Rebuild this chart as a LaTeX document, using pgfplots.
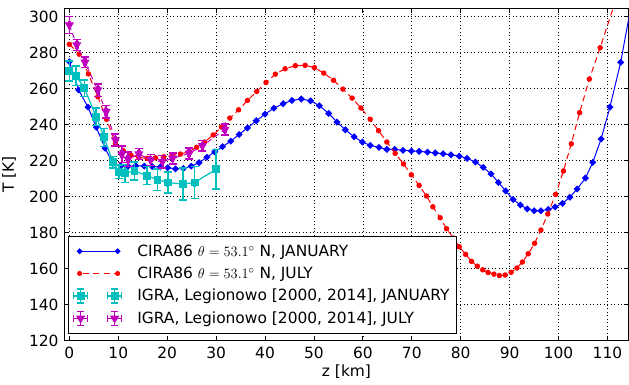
\documentclass[border=0pt]{standalone}
\usepackage{pgfplots}
\pgfplotsset{compat=1.18}
\usepackage{fontspec}
\setmainfont{DejaVu Sans}
\definecolor{cc}{rgb}{0,0.75,0.75}
\definecolor{mm}{rgb}{0.75,0,0.75}
\newcommand{\fs}{\fontsize{15.5}{18}\selectfont}
\begin{document}
\begin{tikzpicture}
\begin{axis}[
  at={(0,0)}, anchor=south west,
  width=564bp, height=332.4bp, scale only axis,
  xmin=-1, xmax=114.3, ymin=120, ymax=304.7,
  xtick={0,10,...,110}, ytick={120,140,...,300},
  tick align=inside, major tick length=5bp,
  grid=major,
  major grid style={black, line width=0.7bp, dash pattern=on 1bp off 2.5bp},
  axis line style={black, line width=1bp},
  every tick/.style={black, line width=0.8bp},
  /pgf/number format/assume math mode=true,
  ticklabel style={font=\fs},
  xticklabel style={anchor=north, inner sep=0pt, yshift=-6.6bp},
  yticklabel style={anchor=east, inner sep=0pt, xshift=-5.8bp},
  xlabel={z [km]}, ylabel={T [K]},
  xlabel style={font=\fs, at={(axis description cs:0.5,-0.0731)}, anchor=north, inner sep=0pt},
  ylabel style={font=\fs, at={(axis description cs:-0.1108,0.5)}, anchor=north, inner sep=0pt},
  clip marker paths=true,
  legend cell align=left,
  legend style={at={(axis description cs:0.0057,0.0202)}, anchor=south west,
    draw=black, line width=1bp, fill=white, font=\fs,
    inner xsep=4.6bp, inner ysep=6.5bp, row sep=5.3bp, column sep=11.7bp},
]
\addplot[blue, line width=1bp, mark=square*, mark size=2bp,
  mark options={rotate=45, solid, fill=blue},
  legend image code/.code={
    \path[draw=none, fill=none] (-6bp,-8bp) rectangle (44bp,8bp);
    \draw[blue, line width=1bp] (0bp,0bp) -- (38bp,0bp);
    \draw[blue] plot[only marks, mark=square*, mark size=1.7bp, mark options={rotate=45, fill=blue}] coordinates {(0bp,0bp) (38bp,0bp)};
  }] coordinates {
(0,275) (1.9,259.3) (3.8,249.8) (5.5,238.6) (7.3,226.9) (8.9,218.7) (10.5,217.2) (12.0,216.9) (13.6,217.2) (15.3,217.0) (16.9,216.8) (18.6,216.5) (20.1,216.1) (21.7,215.5) (23.3,215.7) (24.9,217.0) (26.5,218.9) (28.1,221.9) (29.7,224.9) (31.3,227.8) (33.0,230.9) (34.7,234.6) (36.4,238.2) (38.2,242.2) (40.0,245.9) (41.8,249.2) (43.7,251.7) (45.5,253.5) (47.4,254.3) (49.3,253.3) (51.1,250.6) (53.0,246.3) (54.7,241.5) (56.4,237.2) (58.2,233.3) (59.9,230.4) (61.5,228.5) (63.3,227.4) (64.9,226.3) (66.5,226.3) (68.2,225.8) (69.9,225.4) (71.5,225.2) (73.2,224.8) (74.8,224.3) (76.4,223.9) (78.0,223.3) (79.7,222.6) (81.3,221.3) (83.0,219.3) (84.6,216.3) (86.2,212.7) (87.7,207.9) (89.2,203.2) (90.7,198.5) (92.2,195.4) (93.6,193.2) (95.0,192.2) (96.4,192.2) (97.9,193.0) (99.3,194.3) (100.8,196.3) (102.3,199.7) (103.8,204.3) (105.5,210.4) (107.0,219.1) (108.7,232.1) (110.5,249.8) (112.7,274.7) (115.3,313)
};
\addlegendentry{CIRA86 $\theta=53.1^\circ$ N, JANUARY}
\addplot[red, line width=1bp, dash pattern=on 6bp off 4bp, mark=*, mark size=2.2bp,
  mark options={solid, fill=red},
  legend image code/.code={
    \path[draw=none, fill=none] (-6bp,-8bp) rectangle (44bp,8bp);
    \draw[red, line width=1bp, dash pattern=on 6bp off 4.5bp, dash phase=-3bp] (0bp,0bp) -- (38bp,0bp);
    \draw[red, solid] plot[only marks, mark=*, mark size=2bp, mark options={fill=red}] coordinates {(0bp,0bp) (38bp,0bp)};
  }] coordinates {
(0,284.7) (2.0,279.2) (3.9,268.2) (5.8,255.6) (7.6,243.0) (9.4,229.8) (11.0,225.6) (12.6,223.0) (14.2,221.8) (15.9,221.3) (17.6,221.6) (19.3,222.2) (21.0,223.2) (22.7,223.7) (24.4,225.0) (26.0,227.4) (27.6,230.4) (29.4,234.3) (31.1,238.7) (32.8,243.7) (34.6,248.3) (36.4,253.5) (38.3,258.5) (40.2,263.5) (42.1,268.1) (44.1,271.1) (46.2,272.8) (48.2,273.0) (50.1,271.7) (52.0,268.7) (54.0,264.7) (55.9,259.8) (57.8,254.8) (59.6,249.3) (61.5,243.0) (63.2,236.7) (64.9,230.4) (66.6,224.1) (68.3,218.2) (69.9,212.2) (71.5,206.3) (73.0,200.4) (74.3,194.4) (75.8,188.3) (77.1,182.2) (78.5,177.0) (79.7,172.2) (81.0,168.0) (82.2,164.1) (83.4,161.4) (84.5,159.4) (85.6,157.9) (86.8,157.0) (87.9,156.2) (89.1,156.5) (90.3,158.0) (91.5,160.4) (92.6,163.7) (93.8,168.3) (95.1,174.1) (96.4,181.5) (97.8,190.4) (99.4,201.3) (101.0,214.3) (102.6,229.4) (104.3,246.7) (106.3,265.4) (108.5,282.8) (111.3,306)
};
\addlegendentry{CIRA86 $\theta=53.1^\circ$ N, JULY}
\addplot[cc, line width=1.2bp, mark=square*, mark size=3.3bp,
  mark options={solid, fill=cc},
  error bars/.cd, x dir=both, x explicit, y dir=both, y explicit,
  error bar style={line width=1.6bp, cc},
  error mark options={rotate=90, mark size=4bp, line width=1.6bp, cc},
  /pgfplots/legend image code/.code={
    \path[draw=none, fill=none] (-6bp,-8bp) rectangle (44bp,8bp);
    \draw[cc, solid, line width=1.6bp] (-6bp,0)--(8bp,0) (1bp,-7bp)--(1bp,7bp)
      (-6bp,-3.5bp)--(-6bp,3.5bp) (8bp,-3.5bp)--(8bp,3.5bp)
      (-2.5bp,-7bp)--(4.5bp,-7bp) (-2.5bp,7bp)--(4.5bp,7bp);
    \draw[cc, solid, line width=1.6bp] (28bp,0)--(42bp,0) (35bp,-7bp)--(35bp,7bp)
      (28bp,-3.5bp)--(28bp,3.5bp) (42bp,-3.5bp)--(42bp,3.5bp)
      (31.5bp,-7bp)--(38.5bp,-7bp) (31.5bp,7bp)--(38.5bp,7bp);
    \draw[cc, solid] plot[only marks, mark=square*, mark size=3.3bp, mark options={fill=cc}] coordinates {(1bp,0bp) (35bp,0bp)};
  }] coordinates {
(0,269.8) +- (0.2,5.5)
(1.4,267.1) +- (0.2,5.4)
(3.05,260.4) +- (0.2,4.6)
(5.5,244.4) +- (0.2,4.9)
(7.1,233.0) +- (0.2,5.0)
(8.9,219.1) +- (0.2,3.2)
(10.1,213.9) +- (0.2,3.7)
(11.4,213.0) +- (0.2,5.0)
(13.3,214.3) +- (0.2,5.0)
(15.9,211.7) +- (0.2,5.0)
(18.0,209.5) +- (0.2,6.0)
(20.1,207.9) +- (0.2,5.8)
(23.2,207.0) +- (0.2,8.8)
(25.6,207.9) +- (0.2,8.8)
(29.95,215.2) +- (0.2,11.0)
};
\addlegendentry{IGRA, Legionowo [2000, 2014], JANUARY}
\addplot[mm, line width=1bp, dash pattern=on 5bp off 4bp, mark=triangle*, mark size=4.3bp,
  mark options={solid, rotate=180, fill=mm},
  error bars/.cd, x dir=both, x explicit, y dir=both, y explicit,
  error bar style={line width=1.6bp, solid, mm},
  error mark options={rotate=90, mark size=4bp, line width=1.6bp, solid, mm},
  /pgfplots/legend image code/.code={
    \path[draw=none, fill=none] (-6bp,-8bp) rectangle (44bp,8bp);
    \draw[mm, solid, line width=1.6bp] (-6bp,0)--(8bp,0) (1bp,-7bp)--(1bp,7bp)
      (-6bp,-3.5bp)--(-6bp,3.5bp) (8bp,-3.5bp)--(8bp,3.5bp)
      (-2.5bp,-7bp)--(4.5bp,-7bp) (-2.5bp,7bp)--(4.5bp,7bp);
    \draw[mm, solid, line width=1.6bp] (28bp,0)--(42bp,0) (35bp,-7bp)--(35bp,7bp)
      (28bp,-3.5bp)--(28bp,3.5bp) (42bp,-3.5bp)--(42bp,3.5bp)
      (31.5bp,-7bp)--(38.5bp,-7bp) (31.5bp,7bp)--(38.5bp,7bp);
    \draw[mm, solid] plot[only marks, mark=triangle*, mark size=4.3bp, mark options={rotate=180, fill=mm}] coordinates {(1bp,0bp) (35bp,0bp)};
  }] coordinates {
(0,295.4) +- (0.2,4.8)
(1.5,284.3) +- (0.2,3.0)
(3.2,274.7) +- (0.2,3.0)
(5.8,259.3) +- (0.2,3.5)
(7.5,247.2) +- (0.2,3.5)
(9.4,231.5) +- (0.2,3.2)
(10.7,223.6) +- (0.2,4.5)
(12.0,220.8) +- (0.2,4.0)
(14.2,223.7) +- (0.2,3.0)
(16.6,220.4) +- (0.2,3.0)
(19.0,219.5) +- (0.2,3.5)
(21.1,221.3) +- (0.2,3.0)
(24.5,224.1) +- (0.2,3.0)
(27.2,228.3) +- (0.2,3.0)
(31.8,237.4) +- (0.2,3.0)
};
\addlegendentry{IGRA, Legionowo [2000, 2014], JULY}
\end{axis}
\pgfresetboundingbox
\path (-64.5bp,-44.3bp) rectangle (564.5bp,340.7bp);
\end{tikzpicture}
\end{document}
